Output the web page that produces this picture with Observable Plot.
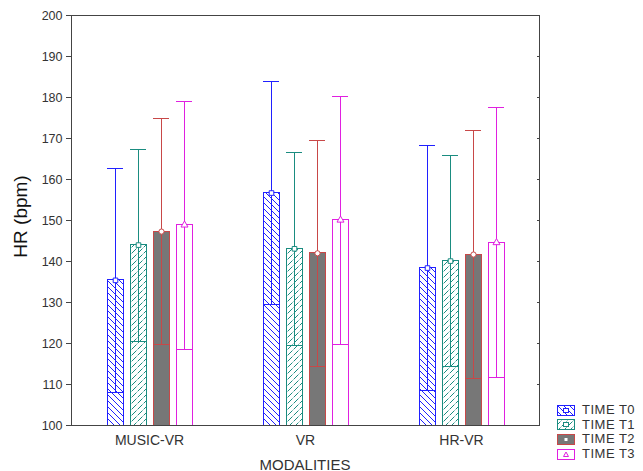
<!DOCTYPE html>
<html><head><meta charset="utf-8">
<script src="https://cdn.jsdelivr.net/npm/d3@7"></script>
<script src="https://cdn.jsdelivr.net/npm/@observablehq/plot@0.6"></script>
<style>
body{margin:0;background:#fff;font-family:"Liberation Sans",Arial,sans-serif;}
#wrap{position:relative;width:643px;height:471px;overflow:hidden;}
#legend{position:absolute;left:557px;top:403px;}
.row{display:flex;align-items:center;height:14.6px;}
.row svg{display:block;flex:none;}
.row span{font-size:13px;letter-spacing:0.5px;color:#333;margin-left:7px;line-height:14.6px;white-space:nowrap;}
</style></head><body><div id="wrap"></div>
<script>
// ---- data ----
const modalities = ["MUSIC-VR", "VR", "HR-VR"];
const times = ["TIME T0", "TIME T1", "TIME T2", "TIME T3"];
const meanT0 = [135.4, 156.7, 138.4];
const hiT0   = [162.7, 184.0, 168.3];
const loT0   = [108.1, 129.4, 108.5];
const meanT1 = [144.0, 143.1, 140.1];
const hiT1   = [167.4, 166.5, 165.8];
const loT1   = [120.5, 119.6, 114.3];
const meanT2 = [147.3, 142.0, 141.7];
const hiT2   = [175.0, 169.5, 172.0];
const loT2   = [119.7, 114.3, 111.4];
const meanT3 = [148.9, 150.1, 144.6];
const hiT3   = [179.0, 180.3, 177.6];
const loT3   = [118.6, 119.8, 111.7];
const yTicks = [100, 110, 120, 130, 140, 150, 160, 170, 180, 190, 200];
const yLabel = "HR (bpm)";
const xLabel = "MODALITIES";

// ---- styles ----
const strokeCols = ["#2020ff", "#1a8c80", "#c84848", "#e020e0"];
const fills = ["url(#hatch0)", "url(#hatch1)", "#777777", "#ffffff"];
const symbols = ["square", "square", "circle", "triangle"];

const means = [meanT0, meanT1, meanT2, meanT3];
const his = [hiT0, hiT1, hiT2, hiT3];
const los = [loT0, loT1, loT2, loT3];
const rows = [];
times.forEach((t, j) => modalities.forEach((m, i) => {
  rows.push({modality: m, time: t, mean: means[j][i], hi: his[j][i], lo: los[j][i]});
}));

const crisp = {shapeRendering: "crispEdges"};
const marks = [];
times.forEach((t, j) => {
  const sub = rows.filter(d => d.time === t);
  marks.push(Plot.barY(sub, {fx: "modality", x: "time", y1: 100, y2: "mean",
    fill: fills[j], stroke: strokeCols[j], strokeWidth: 1, ...crisp}));
});
times.forEach((t, j) => {
  const sub = rows.filter(d => d.time === t);
  marks.push(Plot.ruleX(sub, {fx: "modality", x: "time", y1: "lo", y2: "hi", stroke: strokeCols[j], strokeWidth: 1, ...crisp}));
  marks.push(Plot.tickY(sub, {fx: "modality", x: "time", y: "hi", stroke: strokeCols[j], strokeWidth: 1, ...crisp}));
  marks.push(Plot.tickY(sub, {fx: "modality", x: "time", y: "lo", stroke: strokeCols[j], strokeWidth: 1, ...crisp}));
  marks.push(Plot.dot(sub, {fx: "modality", x: "time", y: "mean", symbol: symbols[j], r: 2.6,
    fill: "#fff", stroke: strokeCols[j], strokeWidth: 1}));
});
marks.push(Plot.frame({facet: "super", stroke: "#444", ...crisp}));
marks.push(Plot.axisY({anchor: "left", ticks: yTicks, tickSize: 5, tickPadding: 4, fontSize: 12.5,
  label: null, stroke: "#444", fill: "#333", ...crisp}));
marks.push(Plot.axisY({anchor: "right", ticks: yTicks, tickSize: -3, tickFormat: () => "", label: null, stroke: "#444", ...crisp}));
marks.push(Plot.axisFx({anchor: "bottom", tickSize: 0, tickPadding: 10, fontSize: 14, label: null, fill: "#333"}));

const chart = Plot.plot({
  width: 643, height: 471,
  marginLeft: 70, marginRight: 103, marginTop: 15, marginBottom: 46,
  style: {fontFamily: "'Liberation Sans', Arial, sans-serif", background: "#fff"},
  fx: {domain: modalities, padding: 0},
  x: {domain: times, paddingInner: 0.325, paddingOuter: 1.47, axis: null},
  y: {domain: [100, 200]},
  marks
});

const svg = d3.select(chart);
const defs = svg.insert("defs", ":first-child");
function hatch(id, color, d, dash) {
  const p = defs.append("pattern").attr("id", id).attr("patternUnits", "userSpaceOnUse")
    .attr("width", 6).attr("height", 6);
  p.append("rect").attr("width", 6).attr("height", 6).attr("fill", "#fff");
  const path = p.append("path").attr("d", d).attr("stroke", color).attr("stroke-width", 1).attr("fill", "none");
  if (dash) path.attr("stroke-dasharray", dash);
}
hatch("hatch0", strokeCols[0], "M-1,-1 l2,2 M0,0 l6,6 M5,5 l2,2");
hatch("hatch1", strokeCols[1], "M-1,1 l2,-2 M0,6 l6,-6 M5,7 l2,-2", "5,1.5");

svg.append("text").attr("transform", "translate(20,216.5) rotate(-90)")
  .attr("text-anchor", "middle").attr("dy", "0.35em")
  .attr("font-size", 19).attr("fill", "#111").text(yLabel);
svg.append("text").attr("x", 305).attr("y", 469.5)
  .attr("text-anchor", "middle").attr("font-size", 15).attr("fill", "#333").text(xLabel);

const wrap = document.getElementById("wrap");
wrap.appendChild(chart);

// legend
const legend = document.createElement("div");
legend.id = "legend";
wrap.appendChild(legend);
times.forEach((t, j) => {
  const row = d3.select(legend).append("div").attr("class", "row");
  const s = row.append("svg").attr("width", 18).attr("height", 11);
  s.append("rect").attr("x", 0.5).attr("y", 0.5).attr("width", 17).attr("height", 10)
    .attr("fill", fills[j]).attr("stroke", strokeCols[j]);
  if (j === 3) {
    s.append("path").attr("d", "M9,3 L11.5,7.5 L6.5,7.5 Z").attr("fill", "#fff").attr("stroke", strokeCols[j]);
  } else if (j === 2) {
    s.append("rect").attr("x", 7.5).attr("y", 4).attr("width", 3).attr("height", 3).attr("fill", "#fff");
  } else {
    s.append("rect").attr("x", 6.5).attr("y", 3.5).attr("width", 5).attr("height", 4)
      .attr("fill", "#fff").attr("stroke", strokeCols[j]);
  }
  row.append("span").text(t);
});
</script>
</body></html>
